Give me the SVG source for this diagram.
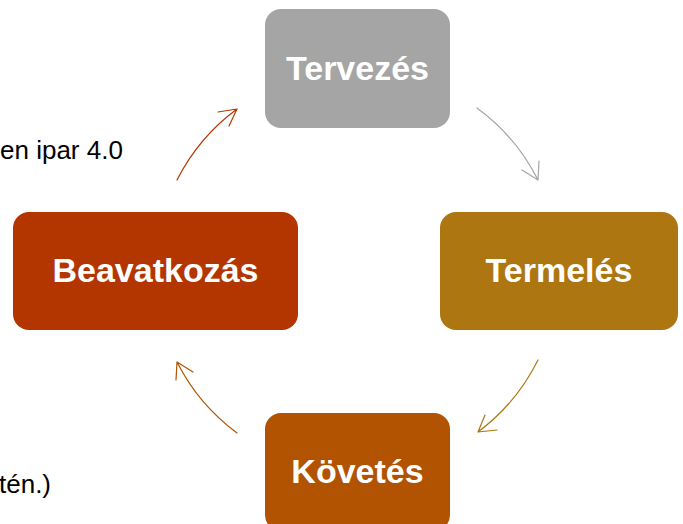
<svg xmlns="http://www.w3.org/2000/svg" width="683" height="524" viewBox="0 0 683 524">
<style>
.node text{font-family:"Liberation Sans",Arial,sans-serif;font-weight:bold;font-size:34px;fill:#ffffff;text-anchor:middle}
.side{font-family:"Liberation Sans",Arial,sans-serif;font-size:26px;fill:#000000}
.conn path{fill:none;stroke-width:1.2;stroke-linecap:round;stroke-linejoin:round}
</style>
<rect width="683" height="524" fill="#ffffff"/>
<text class="side" x="0" y="159">en ipar 4.0</text>
<text class="side" x="-1" y="493">tén.)</text>
<g id="connectors" class="conn">
<path d="M477 108 A202 202 0 0 1 538 180 M522 170 L538 180 L539 161" stroke="#A5A5A5"/>
<path d="M538 360 A202 202 0 0 1 478 432 M497 430 L478 432 L485 415" stroke="#AD7610"/>
<path d="M237 433 A202 202 0 0 1 177 362 M193 372 L177 362 L176 380" stroke="#B15300"/>
<path d="M177 180 A202 202 0 0 1 237 109 M218 112 L237 109 L229 126" stroke="#B33500"/>
</g>
<g id="tervezes" class="node">
<rect x="265" y="9" width="185" height="119" rx="16" fill="#A5A5A5"/>
<text x="357.5" y="80">Tervezés</text>
</g>
<g id="termeles" class="node">
<rect x="440" y="212" width="238" height="118" rx="16" fill="#AD7610"/>
<text x="559" y="282">Termelés</text>
</g>
<g id="kovetes" class="node">
<rect x="265" y="413" width="185" height="118" rx="16" fill="#B15300"/>
<text x="357.5" y="483">Követés</text>
</g>
<g id="beavatkozas" class="node">
<rect x="13" y="212" width="285" height="118" rx="16" fill="#B33500"/>
<text x="155.5" y="282">Beavatkozás</text>
</g>
</svg>
